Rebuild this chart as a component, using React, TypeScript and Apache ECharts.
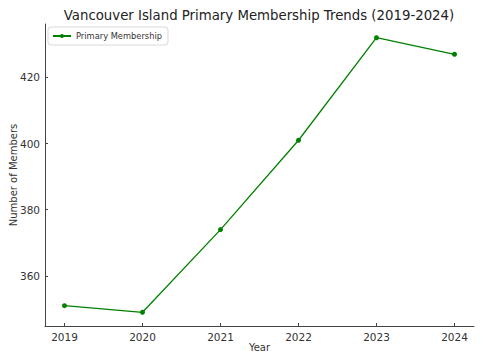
import React, { useEffect, useRef } from "react";
import * as echarts from "echarts";

const years = [2019, 2020, 2021, 2022, 2023, 2024];
const members = [351, 349, 374, 401, 432, 427];
const yTicks = [360, 380, 400, 420];
const seriesName = "Primary Membership";
const titleText = "Vancouver Island Primary Membership Trends (2019-2024)";

export default function App() {
  const ref = useRef<HTMLDivElement>(null);
  useEffect(() => {
    if (!ref.current) return;
    const chart = echarts.init(ref.current, undefined, { renderer: "svg" });
    const font = "DejaVu Sans";
    const dataMin = Math.min(...members);
    const dataMax = Math.max(...members);
    const yPad = (dataMax - dataMin) * 0.05;
    const xPad = (years[years.length - 1] - years[0]) * 0.05;
    chart.setOption({
      animation: false,
      backgroundColor: "#ffffff",
      textStyle: { fontFamily: font },
      title: {
        text: titleText,
        left: 254,
        textAlign: "center",
        top: 4,
        textStyle: { fontFamily: font, fontSize: 13.3, fontWeight: "normal", color: "#222" },
      },
      legend: {
        left: 48,
        top: 27,
        orient: "vertical",
        data: [seriesName],
        itemWidth: 18,
        itemHeight: 5,
        itemGap: 4,
        padding: [5, 6, 5, 4],
        backgroundColor: "#fff",
        borderColor: "#d8d8d8",
        borderWidth: 1,
        borderRadius: 3,
        textStyle: { fontFamily: font, fontSize: 8.3, color: "#333" },
      },
      grid: { left: 45, right: 9, top: 24, bottom: 36, containLabel: false, outerBoundsMode: "none" },
      xAxis: {
        type: "value",
        min: years[0] - xPad,
        max: years[years.length - 1] + xPad,
        name: "Year",
        nameLocation: "middle",
        nameGap: 16,
        nameMoveOverlap: false,
        nameTextStyle: { fontFamily: font, fontSize: 10, color: "#333" },
        splitLine: { show: false },
        axisLine: { lineStyle: { color: "#444", width: 1 } },
        axisTick: { inside: true, length: 3, customValues: years, lineStyle: { color: "#444" } },
        axisLabel: {
          customValues: years,
          formatter: (v: number) => String(v),
          fontFamily: font,
          fontSize: 10.5,
          color: "#333",
          margin: 5,
        },
      },
      yAxis: {
        type: "value",
        min: dataMin - yPad,
        max: dataMax + yPad,
        name: "Number of Members",
        nameLocation: "middle",
        nameGap: 27,
        nameMoveOverlap: false,
        nameTextStyle: { fontFamily: font, fontSize: 10, color: "#333" },
        splitLine: { show: false },
        axisLine: { show: true, lineStyle: { color: "#444", width: 1 } },
        axisTick: { show: true, inside: true, length: 3, customValues: yTicks, lineStyle: { color: "#444" } },
        axisLabel: {
          customValues: yTicks,
          formatter: (v: number) => String(v),
          fontFamily: font,
          fontSize: 10.5,
          color: "#333",
          margin: 5,
        },
      },
      series: [
        {
          name: seriesName,
          type: "line",
          data: years.map((y, i) => [y, members[i]]),
          color: "#008000",
          symbol: "circle",
          symbolSize: 5,
          lineStyle: { width: 1.3, color: "#008000" },
          itemStyle: { color: "#008000" },
        },
      ],
    });
    return () => chart.dispose();
  }, []);
  return (
    <div
      ref={ref}
      style={{ position: "fixed", left: 0, top: 0, width: 483, height: 362 }}
    />
  );
}
